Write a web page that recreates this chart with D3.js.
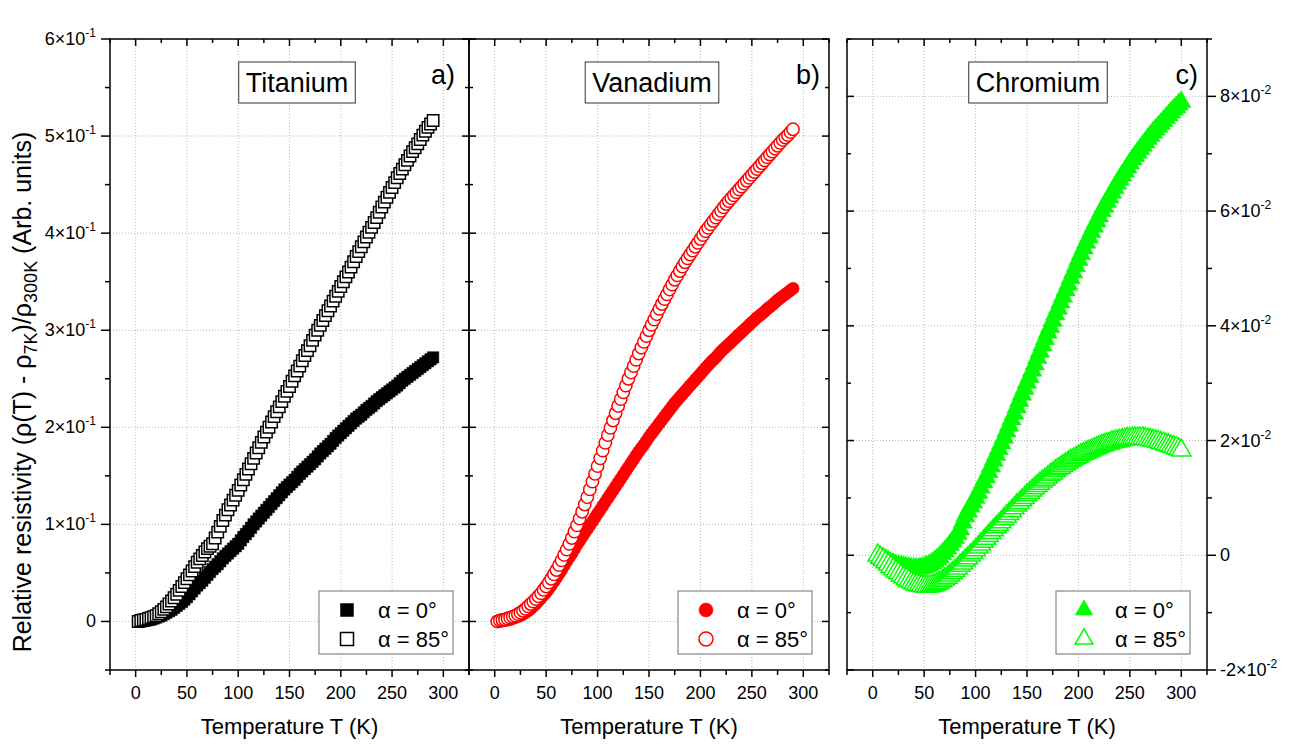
<!DOCTYPE html>
<html>
<head>
<meta charset="utf-8">
<script src="https://cdn.jsdelivr.net/npm/d3@7"></script>
<style>
  body { margin: 0; background: #fff; }
  text { font-family: Arial, "Liberation Sans", sans-serif; fill: #000; }
</style>
</head>
<body>
<svg id="chart" width="1294" height="747"></svg>
<script>
// Temperatures (K)
const tempTiV = [2.5,5,7.5,10,12.5,15,17.5,20,22.5,25,
  27.5,30,32.5,35,37.5,40,42.5,45,47.5,50,
  52.5,55,57.5,60,62.5,65,67.5,70,72.5,75,
  77.5,80,82.5,85,87.5,90,92.5,95,97.5,100,
  102.5,105,107.5,110,112.5,115,117.5,120,122.5,125,
  127.5,130,132.5,135,137.5,140,142.5,145,147.5,150,
  152.5,155,157.5,160,162.5,165,167.5,170,172.5,175,
  177.5,180,182.5,185,187.5,190,192.5,195,197.5,200,
  202.5,205,207.5,210,212.5,215,217.5,220,222.5,225,
  227.5,230,232.5,235,237.5,240,242.5,245,247.5,250,
  252.5,255,257.5,260,262.5,265,267.5,270,272.5,275,
  277.5,280,282.5,285,287.5,290];
const tempCr = [5,7.5,10,12.5,15,17.5,20,22.5,25,27.5,
  30,32.5,35,37.5,40,42.5,45,47.5,50,52.5,
  55,57.5,60,62.5,65,67.5,70,72.5,75,77.5,
  80,82.5,85,87.5,90,92.5,95,97.5,100,102.5,
  105,107.5,110,112.5,115,117.5,120,122.5,125,127.5,
  130,132.5,135,137.5,140,142.5,145,147.5,150,152.5,
  155,157.5,160,162.5,165,167.5,170,172.5,175,177.5,
  180,182.5,185,187.5,190,192.5,195,197.5,200,202.5,
  205,207.5,210,212.5,215,217.5,220,222.5,225,227.5,
  230,232.5,235,237.5,240,242.5,245,247.5,250,252.5,
  255,257.5,260,262.5,265,267.5,270,272.5,275,277.5,
  280,282.5,285,287.5,290,292.5,295,297.5,300];

// Titanium
const ti0 = [0,0,0.0005,0.001,0.0015,0.002,0.003,0.004,0.005,0.006,
  0.0075,0.009,0.0105,0.012,0.014,0.016,0.018,0.020,0.0225,0.025,
  0.028,0.031,0.034,0.037,0.0395,0.042,0.045,0.048,0.051,0.054,
  0.0565,0.059,0.062,0.065,0.0675,0.070,0.0725,0.075,0.0775,0.080,
  0.0835,0.087,0.090,0.093,0.0965,0.100,0.103,0.106,0.109,0.112,
  0.115,0.118,0.121,0.124,0.127,0.130,0.133,0.136,0.1385,0.141,
  0.1435,0.146,0.149,0.152,0.1545,0.157,0.1595,0.162,0.1645,0.167,
  0.170,0.173,0.1755,0.178,0.1805,0.183,0.186,0.189,0.1915,0.194,
  0.1965,0.199,0.2015,0.204,0.2065,0.209,0.211,0.213,0.2155,0.218,
  0.220,0.222,0.2245,0.227,0.229,0.231,0.233,0.235,0.237,0.239,
  0.241,0.243,0.2455,0.248,0.250,0.252,0.254,0.256,0.258,0.260,
  0.262,0.264,0.266,0.268,0.270,0.272];
const ti85 = [0,0.001,0.0015,0.002,0.003,0.004,0.005,0.006,0.008,0.010,
  0.0125,0.015,0.018,0.021,0.0245,0.028,0.032,0.036,0.040,0.044,
  0.048,0.052,0.0565,0.061,0.0645,0.068,0.0715,0.075,0.0775,0.080,
  0.086,0.092,0.098,0.104,0.1095,0.115,0.120,0.125,0.130,0.135,
  0.1405,0.146,0.1515,0.157,0.1625,0.168,0.1735,0.179,0.1845,0.190,
  0.195,0.200,0.2055,0.211,0.216,0.221,0.2265,0.232,0.237,0.242,
  0.2475,0.253,0.258,0.263,0.2685,0.274,0.279,0.284,0.2895,0.295,
  0.300,0.305,0.310,0.315,0.320,0.325,0.330,0.335,0.340,0.345,
  0.350,0.355,0.360,0.365,0.3705,0.376,0.381,0.386,0.391,0.396,
  0.401,0.406,0.411,0.416,0.4215,0.427,0.432,0.437,0.442,0.447,
  0.452,0.457,0.4615,0.466,0.4705,0.475,0.4795,0.484,0.488,0.492,
  0.4965,0.501,0.505,0.509,0.5125,0.516];

// Vanadium
const v0 = [0,0,0.0005,0.001,0.0015,0.002,0.003,0.004,0.005,0.006,
  0.0075,0.009,0.011,0.013,0.0155,0.018,0.021,0.024,0.027,0.030,
  0.0335,0.037,0.041,0.045,0.049,0.053,0.0575,0.062,0.066,0.070,
  0.0745,0.079,0.083,0.087,0.091,0.095,0.099,0.103,0.107,0.111,
  0.115,0.119,0.123,0.127,0.131,0.135,0.139,0.143,0.147,0.151,
  0.155,0.159,0.163,0.167,0.171,0.175,0.1785,0.182,0.186,0.190,
  0.1935,0.197,0.2005,0.204,0.2075,0.211,0.2145,0.218,0.2215,0.225,
  0.228,0.231,0.234,0.237,0.240,0.243,0.246,0.249,0.252,0.255,
  0.258,0.261,0.264,0.267,0.2695,0.272,0.275,0.278,0.2805,0.283,
  0.2855,0.288,0.2905,0.293,0.2955,0.298,0.3005,0.303,0.3055,0.308,
  0.3105,0.313,0.315,0.317,0.3195,0.322,0.324,0.326,0.3285,0.331,
  0.333,0.335,0.337,0.339,0.341,0.343];
const v85 = [0,0.001,0.0015,0.002,0.003,0.004,0.005,0.006,0.0075,0.009,
  0.011,0.013,0.0155,0.018,0.0205,0.023,0.026,0.029,0.0325,0.036,
  0.040,0.044,0.0485,0.053,0.058,0.063,0.0685,0.074,0.080,0.086,
  0.0925,0.099,0.106,0.113,0.1205,0.128,0.136,0.144,0.152,0.160,
  0.168,0.176,0.184,0.192,0.1995,0.207,0.2145,0.222,0.229,0.236,
  0.243,0.250,0.2565,0.263,0.2695,0.276,0.282,0.288,0.294,0.300,
  0.3055,0.311,0.3165,0.322,0.327,0.332,0.337,0.342,0.347,0.352,
  0.3565,0.361,0.3655,0.370,0.374,0.378,0.382,0.386,0.390,0.394,
  0.398,0.402,0.4055,0.409,0.4125,0.416,0.4195,0.423,0.4265,0.430,
  0.433,0.436,0.439,0.442,0.445,0.448,0.451,0.454,0.457,0.460,
  0.463,0.466,0.469,0.472,0.475,0.478,0.481,0.484,0.487,0.490,
  0.493,0.496,0.4985,0.501,0.504,0.507];

// Chromium
const cr0 = [0,-0.0003,-0.0005,-0.0008,-0.001,-0.0013,-0.0015,-0.0017,-0.0018,-0.0019,
  -0.002,-0.0021,-0.0022,-0.0023,-0.0023,-0.0023,-0.0023,-0.0022,-0.0021,-0.0019,
  -0.0017,-0.0014,-0.0011,-0.0007,-0.0003,0.0002,0.0007,0.0012,0.0018,0.0024,
  0.0030,0.0037,0.0045,0.0057,0.0068,0.0076,0.0085,0.0092,0.0100,0.0109,
  0.0118,0.0127,0.0136,0.0145,0.0155,0.0165,0.0175,0.0185,0.0195,0.0205,
  0.0216,0.0226,0.0237,0.0247,0.0258,0.0269,0.0280,0.0290,0.0301,0.0311,
  0.0322,0.0333,0.0344,0.0355,0.0366,0.0377,0.0388,0.0398,0.0409,0.0420,
  0.0430,0.0441,0.0451,0.0462,0.0472,0.0483,0.0493,0.0504,0.0515,0.0525,
  0.0535,0.0545,0.0554,0.0564,0.0573,0.0582,0.0591,0.0600,0.0608,0.0616,
  0.0624,0.0632,0.0640,0.0648,0.0655,0.0662,0.0669,0.0676,0.0683,0.0690,
  0.0696,0.0702,0.0708,0.0714,0.0720,0.0726,0.0731,0.0737,0.0742,0.0747,
  0.0752,0.0757,0.0762,0.0767,0.0772,0.0777,0.0781,0.0786,0.0790];
const cr85 = [0,-0.0004,-0.0008,-0.0012,-0.0016,-0.002,-0.0024,-0.0028,-0.0031,-0.0035,
  -0.0038,-0.0041,-0.0044,-0.0047,-0.0049,-0.0051,-0.0052,-0.0053,-0.0054,-0.0054,
  -0.0054,-0.0053,-0.0052,-0.005,-0.0048,-0.0045,-0.0042,-0.0039,-0.0035,-0.0031,
  -0.0027,-0.0023,-0.0018,-0.0014,-0.0009,-0.0005,0,0.0004,0.0009,0.0014,
  0.0019,0.0024,0.0029,0.0034,0.0039,0.0044,0.0049,0.0053,0.0058,0.0063,
  0.0068,0.0072,0.0077,0.0082,0.0087,0.0091,0.0096,0.0100,0.0105,0.0109,
  0.0113,0.0117,0.0121,0.0125,0.0129,0.0132,0.0136,0.0140,0.0143,0.0147,
  0.0150,0.0153,0.0156,0.0159,0.0162,0.0165,0.0167,0.0170,0.0172,0.0175,
  0.0177,0.0179,0.0181,0.0183,0.0185,0.0187,0.0189,0.0191,0.0192,0.0194,
  0.0195,0.0197,0.0198,0.0199,0.0200,0.0201,0.0202,0.0203,0.0203,0.0204,
  0.0204,0.0204,0.0204,0.0204,0.0203,0.0202,0.0201,0.0200,0.0199,0.0198,
  0.0196,0.0195,0.0193,0.0192,0.0190,0.0189,0.0187,0.0185,0.0183];

// Ticks
const xTicks = [0,50,100,150,200,250,300];
const xMinor = [-25,25,75,125,175,225,275,325];
const yTicksTiV = [0,0.1,0.2,0.3,0.4,0.5,0.6];
const yMinorTiV = [-0.05,0.05,0.15,0.25,0.35,0.45,0.55];
const yTicksCr = [-0.02,0,0.02,0.04,0.06,0.08];
const yMinorCr = [-0.01,0.01,0.03,0.05,0.07,0.09];
const legendLabels = ["α = 0°", "α = 85°"];

const svg = d3.select('#chart');
const plotTop = 39, plotBottom = 670;

const panels = [
  { title: 'Titanium', letter: 'a)', left: 110, right: 469, titleX: 297, letterX: 455,
    yDomain: [-0.05, 0.6], yTicks: yTicksTiV, yMinor: yMinorTiV, axis: 'left', exp: -1, mant: 10,
    shape: d3.symbolSquare, color: '#000', size: 130, legSize: 169,
    series: [{ t: tempTiV, v: ti0, filled: true }, { t: tempTiV, v: ti85, filled: false }] },
  { title: 'Vanadium', letter: 'b)', left: 469, right: 829, titleX: 652, letterX: 820,
    yDomain: [-0.05, 0.6], yTicks: yTicksTiV, yMinor: yMinorTiV, axis: 'none',
    shape: d3.symbolCircle, color: '#ff0000', size: 120, legSize: 154,
    series: [{ t: tempTiV, v: v0, filled: true }, { t: tempTiV, v: v85, filled: false }] },
  { title: 'Chromium', letter: 'c)', left: 847, right: 1207, titleX: 1038, letterX: 1198,
    yDomain: [-0.02, 0.09], yTicks: yTicksCr, yMinor: yMinorCr, axis: 'right', exp: -2, mant: 100,
    shape: d3.symbolTriangle, color: '#00ff00', size: 165, legSize: 135,
    series: [{ t: tempCr, v: cr0, filled: true }, { t: tempCr, v: cr85, filled: false }] }
];

function tickLines(g, vals, scale, side, len, x0, x1) {
  vals.forEach(v => {
    const p = scale(v);
    let l;
    if (side === 'bottom') l = [p, plotBottom, p, plotBottom + len];
    if (side === 'top') l = [p, plotTop, p, plotTop + len];
    if (side === 'left') l = [x0, p, x0 + len, p];
    if (side === 'right') l = [x1, p, x1 + len, p];
    g.append('line').attr('x1', l[0]).attr('y1', l[1]).attr('x2', l[2]).attr('y2', l[3])
      .attr('stroke', '#000').attr('stroke-width', 1.5);
  });
}

function sciLabel(sel, v, p) {
  if (Math.abs(v) < 1e-12) { sel.text('0'); return; }
  const m = Math.round(v * p.mant);
  sel.append('tspan').text(m + '×10');
  sel.append('tspan').attr('dy', -8).attr('font-size', 12).text(String(p.exp));
}

panels.forEach(p => {
  const x = d3.scaleLinear().domain([-25, 325]).range([p.left, p.right]);
  const y = d3.scaleLinear().domain(p.yDomain).range([plotBottom, plotTop]);
  const g = svg.append('g');

  // grid
  g.selectAll('.gx').data(xTicks).enter().append('line')
    .attr('x1', d => x(d)).attr('x2', d => x(d)).attr('y1', plotTop).attr('y2', plotBottom)
    .attr('stroke', '#b8b8b8').attr('stroke-width', 1).attr('stroke-dasharray', '1,2');
  g.selectAll('.gy').data(p.yTicks).enter().append('line')
    .attr('x1', p.left).attr('x2', p.right).attr('y1', d => y(d)).attr('y2', d => y(d))
    .attr('stroke', '#b8b8b8').attr('stroke-width', 1).attr('stroke-dasharray', '1,2');

  // data
  p.series.forEach(s => {
    const pts = s.t.map((t, i) => [t, s.v[i]]);
    g.append('g').selectAll('path').data(pts).enter().append('path')
      .attr('d', d3.symbol().type(p.shape).size(p.size)())
      .attr('transform', d => `translate(${x(d[0])},${y(d[1])})`)
      .attr('fill', s.filled ? p.color : '#fff')
      .attr('stroke', p.color).attr('stroke-width', s.filled ? 0.5 : 1.5);
  });

  // frame
  g.append('rect').attr('x', p.left).attr('y', plotTop)
    .attr('width', p.right - p.left).attr('height', plotBottom - plotTop)
    .attr('fill', 'none').attr('stroke', '#000').attr('stroke-width', 1.5);

  // ticks
  tickLines(g, xTicks, x, 'bottom', 7); tickLines(g, xMinor, x, 'bottom', 5);
  tickLines(g, xTicks, x, 'top', 7); tickLines(g, xMinor, x, 'top', 4);
  if (p.axis === 'left') {
    tickLines(g, p.yTicks, y, 'left', -9, p.left, p.right);
    tickLines(g, p.yMinor, y, 'left', -5, p.left, p.right);
  } else {
    tickLines(g, p.yTicks, y, 'left', 7, p.left, p.right);
    tickLines(g, p.yMinor, y, 'left', 4, p.left, p.right);
  }
  if (p.axis === 'right') {
    tickLines(g, p.yTicks, y, 'right', 9, p.left, p.right);
    tickLines(g, p.yMinor, y, 'right', 5, p.left, p.right);
  } else {
    tickLines(g, p.yTicks, y, 'right', -7, p.left, p.right);
    tickLines(g, p.yMinor, y, 'right', -4, p.left, p.right);
  }

  // x labels
  g.selectAll('.xl').data(xTicks).enter().append('text')
    .attr('x', d => x(d)).attr('y', 699).attr('text-anchor', 'middle')
    .attr('font-size', 18).text(d => d);
  g.append('text').attr('x', (p.left + p.right) / 2).attr('y', 734)
    .attr('text-anchor', 'middle').attr('font-size', 22).text('Temperature T (K)');

  // y labels
  if (p.axis === 'left') {
    p.yTicks.forEach(v => {
      const t = g.append('text').attr('x', p.left - 14).attr('y', y(v) + 6)
        .attr('text-anchor', 'end').attr('font-size', 18);
      sciLabel(t, v, p);
    });
  }
  if (p.axis === 'right') {
    p.yTicks.forEach(v => {
      const t = g.append('text').attr('x', p.right + 13).attr('y', y(v) + 6)
        .attr('font-size', 18);
      sciLabel(t, v, p);
    });
  }

  // title box
  const tt = g.append('text').attr('x', p.titleX).attr('y', 92)
    .attr('text-anchor', 'middle').attr('font-size', 27).text(p.title);
  const bb = tt.node().getBBox();
  g.insert('rect', () => tt.node()).attr('x', bb.x - 7).attr('y', 62)
    .attr('width', bb.width + 14).attr('height', 41)
    .attr('fill', '#fff').attr('stroke', '#333').attr('stroke-width', 1);
  g.append('text').attr('x', p.letterX).attr('y', 84).attr('text-anchor', 'end')
    .attr('font-size', 27).text(p.letter);

  // legend
  const lx = p.left + 209;
  g.append('rect').attr('x', lx).attr('y', 591).attr('width', 134).attr('height', 63)
    .attr('fill', '#fff').attr('stroke', '#888').attr('stroke-width', 1.2);
  p.series.forEach((s, i) => {
    const cy = 610 + i * 29;
    g.append('path').attr('d', d3.symbol().type(p.shape).size(p.legSize)())
      .attr('transform', `translate(${lx + 28},${cy})`)
      .attr('fill', s.filled ? p.color : '#fff')
      .attr('stroke', p.color).attr('stroke-width', s.filled ? 0.5 : 1.5);
    g.append('text').attr('x', lx + 59).attr('y', cy + 8).attr('font-size', 22)
      .text(legendLabels[i]);
  });
});

// y axis title
const yt = svg.append('text').attr('transform', 'translate(31,392) rotate(-90)')
  .attr('text-anchor', 'middle').attr('font-size', 25);
yt.append('tspan').text('Relative resistivity (ρ(T) - ρ');
yt.append('tspan').attr('dy', 6).attr('font-size', 18).text('7K');
yt.append('tspan').attr('dy', -6).text(')/ρ');
yt.append('tspan').attr('dy', 6).attr('font-size', 18).text('300K');
yt.append('tspan').attr('dy', -6).text(' (Arb. units)');
</script>
</body>
</html>
